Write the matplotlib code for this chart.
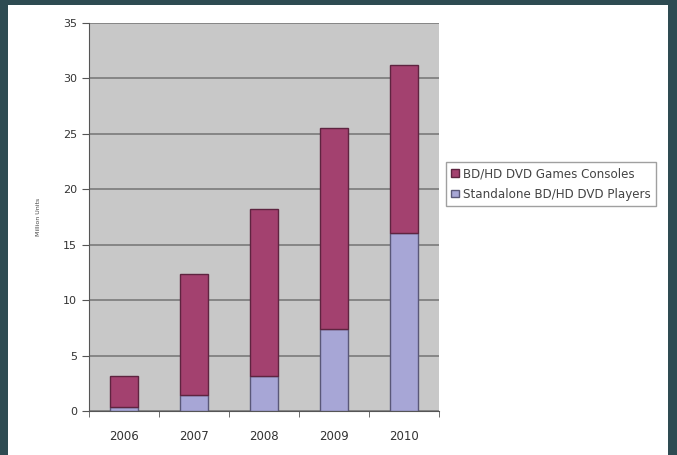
import matplotlib
matplotlib.use("Agg")
import matplotlib.pyplot as plt
import numpy as np
from matplotlib.patches import Rectangle

years = ["2006", "2007", "2008", "2009", "2010"]
players = [0.4, 1.4, 3.2, 7.4, 16.1]
consoles_total = [3.2, 12.4, 18.2, 25.5, 31.2]
consoles = [t - p for t, p in zip(consoles_total, players)]
yticks = [0, 5, 10, 15, 20, 25, 30, 35]

fig = plt.figure(figsize=(6.77, 4.55), dpi=100)
fig.patch.set_facecolor("#2e4b52")
fig.patches.append(Rectangle((8/677, 0), (668-8)/677, 1 - 5/455, transform=fig.transFigure,
                             facecolor="white", edgecolor="none", zorder=-5))

ax = fig.add_axes([89/677, 1 - 411/455, (439-89)/677, (411-23)/455])
ax.set_zorder(2)
ax.set_facecolor("#c8c8c8")
x = np.arange(len(years))
w = 0.4
ax.bar(x, players, w, color="#a7a6d6", edgecolor="#5a5878", linewidth=1,
       label="Standalone BD/HD DVD Players", zorder=3)
ax.bar(x, consoles, w, bottom=players, color="#a3416f", edgecolor="#5e2440", linewidth=1,
       label="BD/HD DVD Games Consoles", zorder=3)
ax.set_xlim(-0.5, len(years) - 0.5)
ax.set_ylim(0, 35)
ax.set_yticks(yticks)
ax.set_yticklabels([str(v) for v in yticks], fontsize=8, color="#333333")
ax.yaxis.grid(True, color="#7a7a7a", linewidth=1.2, zorder=1)
ax.set_axisbelow(True)
ax.set_xticks(x)
ax.set_xticklabels(years, fontsize=8.5, color="#333333")
ax.set_xticks(np.arange(-0.5, len(years)), minor=True)
ax.tick_params(axis="x", which="major", length=0, pad=14)
ax.tick_params(axis="x", which="minor", length=4, color="#555555")
ax.tick_params(axis="y", length=5, color="#555555")
for s in ["top", "right"]:
    ax.spines[s].set_visible(False)
ax.spines["left"].set_color("#555555")
ax.spines["bottom"].set_color("#555555")
ax.set_ylabel("Million Units", fontsize=4.5, color="#444444", labelpad=16)

handles, labels = ax.get_legend_handles_labels()
leg = fig.legend(handles[::-1], labels[::-1], loc="upper left",
                 bbox_to_anchor=(446/677, 1 - 162/455), fontsize=8.6,
                 frameon=True, fancybox=False, edgecolor="#888888",
                 handlelength=0.6, handleheight=0.6, handletextpad=0.4,
                 borderpad=0.45, labelspacing=0.6, borderaxespad=0)
leg.set_zorder(10)
for t in leg.get_texts():
    t.set_color("#444444")

fig.savefig("out.png", dpi=100, facecolor=fig.get_facecolor())
